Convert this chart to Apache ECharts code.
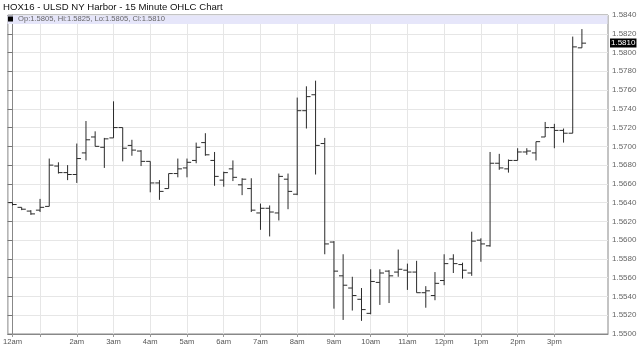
<!DOCTYPE html>
<html>
<head>
<meta charset="utf-8">
<script src="https://cdn.jsdelivr.net/npm/echarts@6/dist/echarts.min.js"></script>
<style>html,body{margin:0;padding:0;background:#fff;}#c{width:640px;height:363px;}</style>
</head>
<body>
<div id="c"></div>
<script>
const titleText = 'HOX16 - ULSD NY Harbor - 15 Minute OHLC Chart';
const opens  = [1.5640,1.5635,1.5631,1.5632,1.5636,1.5679,1.5672,1.5670,1.5693,1.5710,1.5699,1.5709,1.5720,1.5701,1.5695,1.5684,1.5661,1.5655,1.5671,1.5677,1.5685,1.5704,1.5685,1.5664,1.5676,1.5659,1.5655,1.5629,1.5634,1.5629,1.5665,1.5649,1.5738,1.5755,1.5703,1.5598,1.5562,1.5549,1.5537,1.5522,1.5555,1.5567,1.5566,1.5568,1.5566,1.5544,1.5541,1.5557,1.5580,1.5574,1.5565,1.5600,1.5594,1.5682,1.5676,1.5685,1.5694,1.5693,1.5710,1.5720,1.5717,1.5714,1.5805];
const highs  = [1.5640,1.5635,1.5632,1.5644,1.5687,1.5683,1.5680,1.5703,1.5727,1.5716,1.5709,1.5748,1.5720,1.5707,1.5696,1.5684,1.5664,1.5671,1.5687,1.5687,1.5704,1.5714,1.5694,1.5673,1.5685,1.5666,1.5666,1.5639,1.5637,1.5671,1.5671,1.5752,1.5764,1.5770,1.5709,1.5599,1.5585,1.5561,1.5549,1.5569,1.5569,1.5568,1.5590,1.5575,1.5578,1.5551,1.5566,1.5585,1.5585,1.5576,1.5609,1.5602,1.5694,1.5692,1.5686,1.5698,1.5698,1.5705,1.5726,1.5724,1.5719,1.5817,1.5825];
const lows   = [1.5637,1.5632,1.5627,1.5630,1.5636,1.5671,1.5664,1.5661,1.5685,1.5700,1.5677,1.5709,1.5684,1.5690,1.5679,1.5651,1.5643,1.5655,1.5667,1.5667,1.5682,1.5690,1.5658,1.5657,1.5663,1.5648,1.5630,1.5611,1.5604,1.5621,1.5633,1.5648,1.5719,1.5670,1.5585,1.5527,1.5515,1.5525,1.5514,1.5521,1.5531,1.5533,1.5561,1.5547,1.5544,1.5528,1.5536,1.5552,1.5565,1.5559,1.5562,1.5577,1.5593,1.5675,1.5672,1.5685,1.5691,1.5685,1.5710,1.5698,1.5704,1.5714,1.5805];
const closes = [1.5638,1.5633,1.5628,1.5635,1.5680,1.5672,1.5670,1.5687,1.5707,1.5700,1.5708,1.5720,1.5698,1.5696,1.5684,1.5661,1.5652,1.5671,1.5676,1.5683,1.5699,1.5691,1.5668,1.5672,1.5667,1.5665,1.5632,1.5634,1.5630,1.5668,1.5652,1.5738,1.5753,1.5701,1.5596,1.5567,1.5552,1.5541,1.5526,1.5556,1.5565,1.5562,1.5569,1.5566,1.5544,1.5546,1.5554,1.5575,1.5575,1.5568,1.5599,1.5596,1.5682,1.5677,1.5685,1.5694,1.5695,1.5705,1.5720,1.5717,1.5714,1.5806,1.5810];
const gridBars   = [0,3,7,11,15,19,23,27,31,35,39,43,47,51,55,59];
const labelBars  = [0,7,11,15,19,23,27,31,35,39,43,47,51,55,59];
const labelTexts = ['12am','2am','3am','4am','5am','6am','7am','8am','9am','10am','11am','12pm','1pm','2pm','3pm'];
const yMin = 1.55, yMax = 1.584, yStep = 0.002;

const FONT = "'Liberation Sans', Arial, sans-serif";
const data = opens.map((o, i) => [i, o, highs[i], lows[i], closes[i]]);
const last = data.length - 1;
const legendText = 'Op:' + opens[last].toFixed(4) + ', Hi:' + highs[last].toFixed(4) +
  ', Lo:' + lows[last].toFixed(4) + ', Cl:' + closes[last].toFixed(4);

const chart = echarts.init(document.getElementById('c'), null, {renderer: 'canvas'});
const BAR = '#2a2a2a';
chart.setOption({
  animation: false,
  backgroundColor: '#fff',
  title: {
    text: titleText, left: 3, top: 2, padding: 0,
    textStyle: {fontSize: 9.6, fontWeight: 'normal', color: '#111', fontFamily: FONT}
  },
  grid: {left: 7, right: 32, top: 15, bottom: 29, show: true, borderColor: '#888', borderWidth: 1, backgroundColor: 'transparent'},
  graphic: [{
    type: 'rect', left: 7.5, top: 15.5, z: 5,
    shape: {width: 600, height: 8.5},
    style: {fill: '#e6e6fa'}
  }],
  legend: {
    show: true, left: 8, top: 15, padding: 0, itemWidth: 5, itemHeight: 5, itemGap: 3, z: 10,
    icon: 'rect',
    data: [{name: 'OHLC', icon: 'rect', itemStyle: {color: '#000'}}],
    formatter: () => legendText,
    textStyle: {fontSize: 7.6, color: '#666', fontFamily: FONT, padding: [0, 0, 0, 0]}
  },
  xAxis: {
    type: 'value', min: -0.5, max: 64.84,
    axisLine: {show: true, lineStyle: {color: '#888'}},
    axisTick: {show: true, length: 3, lineStyle: {color: '#999'}, customValues: gridBars},
    axisLabel: {
      customValues: labelBars, fontSize: 7.6, color: '#555', fontFamily: FONT, margin: 4,
      formatter: v => { const k = labelBars.indexOf(Math.round(v)); return k >= 0 ? labelTexts[k] : ''; }
    },
    splitLine: {show: true, lineStyle: {color: '#e6e6e6'}}
  },
  yAxis: {
    type: 'value', position: 'right', min: yMin, max: yMax, interval: yStep,
    axisLine: {show: true, lineStyle: {color: '#888'}},
    axisTick: {show: true, inside: true, length: 5, lineStyle: {color: '#777'}},
    axisLabel: {fontSize: 8, color: '#666', fontFamily: FONT, margin: 4, formatter: v => v.toFixed(4)},
    splitLine: {show: true, lineStyle: {color: '#e6e6e6'}}
  },
  series: [{
    name: 'OHLC', type: 'custom', clip: false, z: 20,
    itemStyle: {color: '#000'},
    encode: {x: 0, y: [1, 2, 3, 4]},
    data: data,
    renderItem: (params, api) => {
      const x = api.value(0);
      const o = api.coord([x, api.value(1)]);
      const h = api.coord([x, api.value(2)]);
      const l = api.coord([x, api.value(3)]);
      const c = api.coord([x, api.value(4)]);
      const w = api.size([1, 0])[0] * 0.45;
      const st = {stroke: BAR, lineWidth: 1};
      const children = [
        {type: 'line', shape: {x1: h[0], y1: h[1], x2: l[0], y2: l[1]}, style: st},
        {type: 'line', shape: {x1: o[0] - w, y1: o[1], x2: o[0], y2: o[1]}, style: st},
        {type: 'line', shape: {x1: c[0], y1: c[1], x2: c[0] + w, y2: c[1]}, style: st}
      ];
      if (params.dataIndex === last) {
        const cs = params.coordSys;
        children.push({
          type: 'text', x: cs.x + cs.width + 2, y: Math.round(c[1]),
          style: {
            text: api.value(4).toFixed(4), fill: '#fff', backgroundColor: '#000',
            font: '8px ' + FONT, align: 'left', verticalAlign: 'middle', padding: [1, 1, 0, 1]
          }
        });
      }
      return {type: 'group', children: children};
    }
  }]
});
</script>
</body>
</html>
